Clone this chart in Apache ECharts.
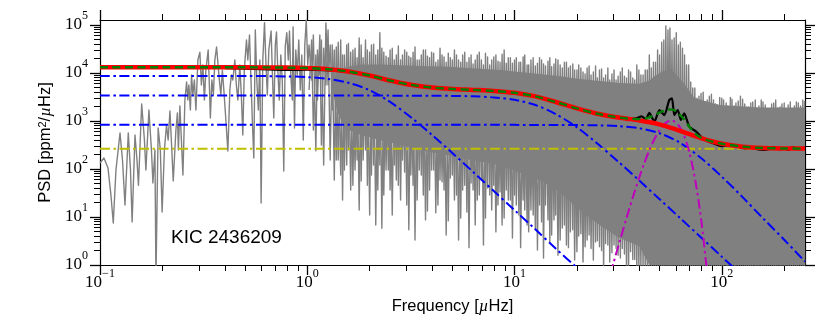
<!DOCTYPE html>
<html><head><meta charset="utf-8">
<script src="https://cdn.jsdelivr.net/npm/echarts@6/dist/echarts.min.js"></script>
<style>html,body{margin:0;padding:0;background:#fff}#c{width:830px;height:332px}</style>
</head><body><div id="c"></div>
<script>
// ---------- axes ----------
const xMin = 0.1, xMax = 252;
const yMin = 1, yMax = 127000;
const xMajorTicks = [0.1, 1, 10, 100];
const xTickExp = ['\u22121', '0', '1', '2'];
const xMinorTicks = [0.2,0.3,0.4,0.5,0.6,0.7,0.8,0.9,2,3,4,5,6,7,8,9,20,30,40,50,60,70,80,90,200];
const yMajorTicks = [1, 10, 100, 1000, 10000, 100000];
const yTickExp = ['0', '1', '2', '3', '4', '5'];
const yMinorTicks = [2,3,4,5,6,7,8,9,20,30,40,50,60,70,80,90,200,300,400,500,600,700,800,900,
  2000,3000,4000,5000,6000,7000,8000,9000,20000,30000,40000,50000,60000,70000,80000,90000];

// ---------- raw PSD (grey), low-frequency part traced point by point ----------
const grayLowFreq = [0.1,0.1045,0.1093,0.1129,0.1159,0.1194,0.1249,0.1284,0.1320,0.1369,
0.1403,0.1429,0.1475,0.1508,0.1533,0.1589,0.1638,0.1665,0.1722,0.1771,
0.1800,0.1841,0.1862,0.1908,0.1955,0.1994,0.2045,0.2094,0.2132,0.2175,
0.2209,0.2256,0.2324,0.2363,0.2389,0.2429,0.2470,0.2512,0.2568,0.2617,
0.2654,0.2684,0.2729,0.2765,0.2806,0.2853,0.2902,0.2967,0.3033,0.3084,
0.3136,0.3189,0.3242,0.3326,0.3370,0.3408,0.3465,0.3524,0.3582,0.3650,
0.3704,0.3766,0.3829,0.3894,0.3959,0.4048,0.4139,0.4232,0.4302,0.4375,
0.4473,0.4548,0.4624,0.4727,0.4806,0.4887,0.4969,0.5090,0.5167,0.5264,
0.5341,0.5431,0.5522,0.5615,0.5709,0.5806,0.5904,0.5989,0.6103,0.6219,
0.6310,0.6416,0.6524,0.6691,0.6781,0.6895,0.7011,0.7105,0.7207,0.7328,
0.7451,0.7576,0.7703,0.7832,0.7964,0.8098,0.8209,0.8327,0.8467,0.8542,
0.8675,0.8803,0.8951,0.9100,0.9253,0.9408,0.9566,0.9727,0.9890,1.0056];
const grayLowPsd = [133,169,105,28.7,7.5,95,562,154,17.8,562,
95,7.9,511,154,46,2260,402,95,1690,249,
51,249,0.5,715,249,12.7,249,826,402,1616,
402,56,650,1468,249,2054,402,75,2740,6500,
2740,5620,1690,9090,3480,7150,1690,18650,27000,5620,
14700,2740,11550,30100,5620,1155,7150,3480,18650,34800,
33000,7150,3480,11550,4420,1050,237,4420,9090,7150,
18650,5620,2740,14700,3480,511,11550,48700,18650,62000,
9090,1050,169,78700,7150,1690,18650,19.6,18650,112000,
18650,3480,30100,75000,11550,1155,38300,71500,11550,2740,
23700,7150,90.9,36500,69000,18650,75000,9090,2740,90900,
715,30100,9090,48700,4420,23700,402,38300,127000,14700];

// ---------- raw PSD (grey), dense part: two interleaved sets of up / down excursions ----------
const grayHighFreq = [1.02,1.05,1.07,1.10,1.12,1.15,1.17,1.20,1.23,1.26,
1.29,1.32,1.35,1.38,1.41,1.45,1.48,1.51,1.55,1.58,
1.62,1.66,1.70,1.74,1.78,1.82,1.86,1.91,1.95,2.00,
2.04,2.09,2.14,2.19,2.24,2.29,2.34,2.40,2.46,2.51,
2.57,2.63,2.69,2.75,2.82,2.88,2.95,3.02,3.09,3.16,
3.24,3.31,3.39,3.47,3.55,3.63,3.72,3.80,3.89,3.98,
4.07,4.17,4.27,4.37,4.47,4.57,4.68,4.79,4.90,5.01,
5.13,5.25,5.37,5.50,5.62,5.75,5.89,6.03,6.17,6.31,
6.46,6.61,6.76,6.92,7.08,7.24,7.41,7.59,7.76,7.94,
8.13,8.32,8.51,8.71,8.91,9.12,9.33,9.55,9.77,10.0,
10.2,10.5,10.7,11.0,11.2,11.5,11.7,12.0,12.3,12.6,
12.9,13.2,13.5,13.8,14.1,14.5,14.8,15.1,15.5,15.8,
16.2,16.6,17.0,17.4,17.8,18.2,18.6,19.1,19.5,20.0,
20.4,20.9,21.4,21.9,22.4,22.9,23.4,24.0,24.6,25.1,
25.7,26.3,26.9,27.5,28.2,28.8,29.5,30.2,30.9,31.6,
32.4,33.1,33.9,34.7,35.5,36.3,37.2,38.0,38.9,39.8,
40.7,41.7,42.7,43.7,44.7,45.7,46.8,47.9,49.0,50.1,
51.3,52.5,53.7,55.0,56.2,57.5,58.9,60.3,61.7,63.1,
64.6,66.1,67.6,69.2,70.8,72.4,74.1,75.9,77.6,79.4,
81.3,83.2,85.1,87.1,89.1,91.2,93.3,95.5,97.7,100,
102,105,107,110,112,115,117,120,123,126,
129,132,135,138,141,145,148,151,155,158,
162,166,170,174,178,182,186,191,195,200,
204,209,214,219,224,229,234,240,246,251];
const grayHighPsdA = [38300,7150,62000,240,30100,9090,48700,121,110000,5620,
38300,1690,30100,154,43800,75,23700,95,38300,249,
27000,46,33000,154,53700,56,20800,249,30100,11,
38300,121,23700,36.5,69000,5.8,27000,95,20800,36.5,
33000,121,23700,46,18650,154,30100,17.8,22500,75,
27000,3.3,18650,95,23700,28.7,30100,13.3,20800,95,
25800,12.2,18650,59,23700,36.5,16800,8.3,20800,75,
30100,28.7,18650,9.5,23700,46,16800,2.3,23700,36.5,
18650,22.6,27000,59,14700,9.5,21700,28.7,18650,46,
23700,17.8,16800,6.8,30100,36.5,20800,22.6,16000,28.7,
20800,11,16800,22.6,23700,6.8,14700,14,20800,5.4,
16000,17.8,18650,1.4,14000,8.7,20800,4.2,15400,11,
18650,3.3,12700,6.8,16800,2.3,14000,5.4,11550,1.9,
14700,4.5,10500,2.4,12700,4.2,9090,1.27,14000,3.2,
11550,2.0,7870,2.8,12700,1.15,9500,2.6,7150,1.6,
10500,2.2,8600,0.8,11550,1.9,7870,1.3,14700,0.8,
9090,0.8,11550,0.8,23700,0.8,16800,0.8,30100,0.8,
43800,0.8,95000,0.8,87000,0.8,53700,0.8,38300,0.8,
33000,0.8,14700,0.8,6500,0.8,4870,0.8,3300,0.8,
4000,0.8,2740,0.8,3600,0.8,2270,0.8,3100,0.8,
2740,0.8,2050,0.8,2850,0.8,2370,0.8,3300,0.8,
2270,0.8,1950,0.8,2500,0.8,1870,0.8,2740,0.8,
2150,0.8,1780,0.8,2370,0.8,1870,0.8,2270,0.8,
1690,0.8,2500,0.8,2050,0.8,2370,0.8,2740,0.8];
const grayHighPsdB = [4420,48700,650,23700,2740,62000,316,33000,5620,78700,
154,38300,59,34800,154,48700,22.6,23700,121,41000,
36.5,30100,95,20800,14,38300,154,48700,46,27000,
75,40000,6.8,30100,121,33000,28.7,22500,95,30100,
11,18650,59,36500,22.6,23700,86,27000,5.4,20800,
46,34800,22.6,18650,75,30100,8.7,22500,36.5,27000,
95,16800,17.8,33000,54,21700,4.2,25800,65,18650,
22.6,23700,3.3,16800,36.5,27000,12.7,20800,51,15400,
6.8,23700,28.7,18650,2.6,25800,40,14700,14,21700,
4.9,17700,33,24700,9.5,16000,22.6,20800,3.65,18650,
17.8,16800,2.3,21700,14,14700,4.9,18650,11,14000,
2.05,20800,7.9,15400,17.8,17700,3.0,13500,8.7,19700,
1.6,14700,5.9,16800,2.6,12700,4.9,15400,1.27,11550,
4.0,12700,1.15,9500,3.3,14000,2.2,10500,3.0,7870,
2.4,12200,0.8,9090,2.6,7150,1.8,11550,2.2,8600,
1.4,12700,1.7,7870,0.8,10500,1.3,7150,0.8,11550,
0.8,9090,0.8,11550,0.8,12700,0.8,16800,0.8,23700,
0.8,48700,0.8,78700,0.8,48700,0.8,69000,0.8,43800,
0.8,23700,0.8,14700,0.8,4870,0.8,3000,0.8,3750,
0.8,2500,0.8,3300,0.8,2740,0.8,2150,0.8,3000,
0.8,2370,0.8,3100,0.8,2050,0.8,2600,0.8,2850,
0.8,1950,0.8,2370,0.8,2740,0.8,2050,0.8,2500,
0.8,1780,0.8,2270,0.8,2740,0.8,1950,0.8,2370,
0.8,2150,0.8,1690,0.8,2500,0.8,2050,0.8,2600];

// dense core of the grey spectrum (upper / lower edge of the solid region)
const bandFreq = [1.30,1.40,1.52,1.79,2.23,2.79,3.48,4.86,5.43,8.47,13.2,16.5,20.6,25.7,32.1,40.0,44.7,47.3,52,58,66.0,73.7,97.3,152,252];
const bandTop = [6000,11000,13000,15000,15000,14500,14000,13500,13000,11500,9500,8500,7500,6800,6200,6000,7000,8500,11000,11000,6000,3000,2150,1900,1900];
const bandBottom = [6000,1500,700,520,402,320,249,190,169,121,59,33,14,6.8,3.65,2.5,1,1,1,1,1,1,1,1,1];

// ---------- smoothed PSD (black) ----------
const blackFreq = [0.4,0.6,0.8,1.0,1.2,1.4,1.6,1.8,2.0,2.3,
2.6,3.0,3.5,4.0,4.5,5.0,5.5,6.0,7.0,8.0,
9.0,10,11,12.5,14,16,18,20,22,25,
28,31,34,36,38.6,41,43,44.7,47.3,50,
52.8,55.8,57.5,59,61.3,63.5,65.9,69.7,75.3,81.1,
90.8,100,110,120,130,140,150,160,170,180,
190,200,210,220,230,240,252];
const blackPsd = [12600,12000,11600,11700,11500,11000,10300,9500,8600,7400,
6500,5800,5300,5000,4750,4650,4500,4350,4250,4350,
3950,3750,3600,3250,2850,2400,2100,1800,1620,1380,
1290,1170,1180,1120,1140,1250,1100,1470,970,1690,
1330,2740,2970,1330,1690,1050,1450,760,600,436,
343,300,310,290,268,280,255,250,262,285,
258,272,250,285,262,272,280];

// ---------- fit: background (red) and background + Gaussian (green) ----------
const fitFreq = [0.1,0.2,0.5,0.8,1.0,1.26,1.58,2.0,2.51,3.16,
3.98,5.01,6.31,7.94,10,12.6,15.8,20,25.1,30,
35,40,45,50,55,57,60,65,70,75,
80,90,100,126,158,200,252];
const backgroundPsd = [13175,13175,13141,12958,12663,11994,10716,8846,6965,5667,
4977,4642,4445,4231,3865,3255,2488,1827,1415,1231,
1118,1027,938,848,756,721,671,595,530,477,
434,373,336,292,274,268,266];
const totalPsd = [13175,13175,13141,12958,12663,11994,10716,8846,6965,5667,
4977,4642,4445,4231,3865,3255,2488,1827,1415,1232,
1129,1095,1201,1489,1734,1736,1604,1152,738,526,
441,373,336,292,274,268,266];

// ---------- components ----------
const compFreq = [0.1,0.2,0.5,0.8,1.0,1.26,1.58,2.0,2.51,3.16,
3.98,5.01,6.31,7.94,10,12.6,15.8,20,25.1,31.6,
39.8,50.1,63.1,79.4,100,126,158,200,252];
const harvey1Psd = [8700,8700,8666,8483,8188,7519,6241,4372,2494,1200,
521,215,86.9,34.9,13.9,5.54,2.20,0.879,0.35,null,
null,null,null,null,null,null,null,null,null];
const harvey2Psd = [3380,3380,3380,3380,3380,3380,3380,3379,3376,3372,
3361,3332,3263,3101,2756,2155,1393,737,338,143,
58.5,23.5,9.40,3.75,1.49,0.595,null,null,null];
const harvey3Psd = [830,830,830,830,830,830,830,830,830,830,
830,830,830,830,830,829,828,824,812,782,
707,557,348,169,69.2,25.9,9.39,3.36,1.18];
const noiseFreq = [0.1, 252];
const noisePsd = [265, 265];
const gaussFreq = [29,30,32,35,38,40,42,45,48,50,52,55,57,59,62,65,68,70,72,75,78,80,82,84,86];
const gaussPsd = [0.65,1.09,2.88,10.8,34.3,67.5,123,263,475,641,803,978,1015,978,803,557,326,208,123,48.6,16.2,7.1,2.88,1.09,0.65];

// ---------- build ----------
function pairs(fs, ps) {
  const out = [];
  for (let i = 0; i < fs.length; i++) if (ps[i] != null) out.push([fs[i], ps[i]]);
  return out;
}
const grayDataA = pairs(grayLowFreq.concat(grayHighFreq), grayLowPsd.concat(grayHighPsdA));
const grayDataB = pairs(grayHighFreq, grayHighPsdB);

const serifFont = 'Liberation Serif';
const sansFont = 'Liberation Sans';
const tickRich = {
  b: { fontFamily: serifFont, fontSize: 17, lineHeight: 30, color: '#000' },
  s: { fontFamily: serifFont, fontSize: 12, lineHeight: 12, verticalAlign: 'top', color: '#000' }
};
function fmt(ticks, exps) {
  return function (v) {
    let i = 0, best = Infinity;
    for (let k = 0; k < ticks.length; k++) {
      const d = Math.abs(Math.log10(v) - Math.log10(ticks[k]));
      if (d < best) { best = d; i = k; }
    }
    return '{b|10}{s|' + exps[i] + '}';
  };
}
const frameLine = { show: true, onZero: false, lineStyle: { color: '#000', width: 1.2 } };
function xAx(pos, major, labels) {
  return {
    type: 'log', logBase: 10, position: pos, min: xMin, max: xMax, gridIndex: 0,
    axisLine: major ? frameLine : { show: false },
    axisTick: { show: true, inside: false, length: major ? 10 : 6,
      customValues: major ? xMajorTicks : xMinorTicks,
      lineStyle: { color: '#000', width: major ? 1.3 : 1 } },
    minorTick: { show: false }, splitLine: { show: false },
    axisLabel: labels ? { show: true, customValues: xMajorTicks, margin: 3,
      showMinLabel: true, showMaxLabel: true,
      formatter: fmt(xMajorTicks, xTickExp), rich: tickRich } : { show: false }
  };
}
function yAx(pos, major, labels) {
  return {
    type: 'log', logBase: 10, position: pos, min: yMin, max: yMax, gridIndex: 0,
    axisLine: major ? frameLine : { show: false },
    axisTick: { show: true, inside: false, length: major ? 10 : 6,
      customValues: major ? yMajorTicks : yMinorTicks,
      lineStyle: { color: '#000', width: major ? 1.3 : 1 } },
    minorTick: { show: false }, splitLine: { show: false },
    axisLabel: labels ? { show: true, customValues: yMajorTicks, margin: 12,
      showMinLabel: true, showMaxLabel: true,
      formatter: fmt(yMajorTicks, yTickExp), rich: tickRich } : { show: false }
  };
}
const xAxes = [xAx('bottom', true, true), xAx('bottom', false, false), xAx('top', true, false), xAx('top', false, false)];
xAxes[0].name = 'Frequency [{m|\u00b5}Hz]';
xAxes[0].nameLocation = 'middle';
xAxes[0].nameGap = 33;
xAxes[0].nameTextStyle = { fontFamily: sansFont, fontSize: 16.5, color: '#000',
  rich: { m: { fontFamily: serifFont, fontStyle: 'italic', fontSize: 17, color: '#000' } } };
const yAxes = [yAx('left', true, true), yAx('left', false, false), yAx('right', true, false), yAx('right', false, false)];
yAxes[0].name = 'PSD [ppm{s|2}/{m|\u00b5}Hz]';
yAxes[0].nameLocation = 'middle';
yAxes[0].nameRotate = 90;
yAxes[0].nameGap = 45;
yAxes[0].nameTextStyle = { fontFamily: sansFont, fontSize: 16.5, color: '#000',
  rich: {
    s: { fontFamily: sansFont, fontSize: 11, lineHeight: 11, verticalAlign: 'top', color: '#000' },
    m: { fontFamily: serifFont, fontStyle: 'italic', fontSize: 17, color: '#000' }
  } };

function line(data, color, width, dash, z, smooth) {
  return { type: 'line', data: data, xAxisIndex: 0, yAxisIndex: 0, showSymbol: false, symbol: 'none',
    silent: true, smooth: smooth || false, z: z, clip: true,
    lineStyle: { color: color, width: width, type: dash || 'solid', cap: 'butt', join: 'round' } };
}
const dashDot = [10, 3.5, 2.5, 3.5];

const chart = echarts.init(document.getElementById('c'), null, { renderer: 'canvas' });
chart.setOption({
  animation: false,
  backgroundColor: '#fff',
  grid: { left: 100, right: 25, top: 20, bottom: 67, containLabel: false, outerBoundsMode: 'none' },
  xAxis: xAxes,
  yAxis: yAxes,
  graphic: [{ type: 'text', left: 171, top: 228, silent: true,
    style: { text: 'KIC 2436209', font: '19px "Liberation Sans"', fill: '#000' } }],
  series: [
    { type: 'custom', z: 1, silent: true, xAxisIndex: 0, yAxisIndex: 0,
      data: [[bandFreq[0], bandTop[0]]], encode: { x: 0, y: 1 },
      renderItem: function (params, api) {
        const pts = [];
        for (let i = 0; i < bandFreq.length; i++) pts.push(api.coord([bandFreq[i], bandTop[i]]));
        for (let i = bandFreq.length - 1; i >= 0; i--) pts.push(api.coord([bandFreq[i], bandBottom[i]]));
        return { type: 'polygon', shape: { points: pts }, style: { fill: '#808080' } };
      } },
    line(grayDataA, '#808080', 1.4, 'solid', 2),
    line(grayDataB, '#808080', 1.4, 'solid', 2),
    line(pairs(compFreq, harvey1Psd), '#0000ff', 2, dashDot, 3, 0.3),
    line(pairs(compFreq, harvey2Psd), '#0000ff', 2, dashDot, 3, 0.3),
    line(pairs(compFreq, harvey3Psd), '#0000ff', 2, dashDot, 3, 0.3),
    line(pairs(noiseFreq, noisePsd), '#bfbf00', 2, dashDot, 3),
    line(pairs(gaussFreq, gaussPsd), '#bf00bf', 2, dashDot, 3, 0.3),
    line(pairs(blackFreq, blackPsd), '#000000', 2.2, 'solid', 4, 0.2),
    line(pairs(fitFreq, backgroundPsd), '#ff0000', 4.5, 'solid', 5, 0.3),
    line(pairs(fitFreq, totalPsd), '#008000', 2.4, [8, 4.5], 6, 0.3)
  ]
});
</script>
</body></html>
